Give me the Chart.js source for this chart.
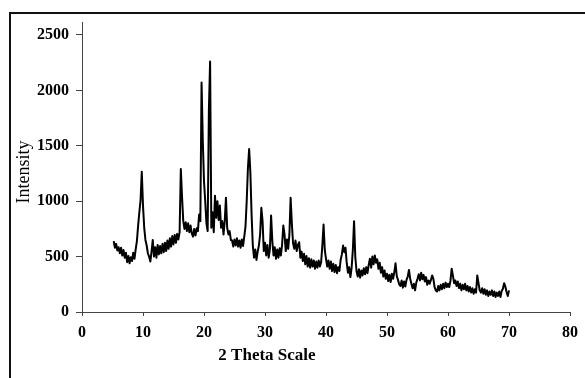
<!DOCTYPE html>
<html>
<head>
<meta charset="utf-8">
<script src="https://cdn.jsdelivr.net/npm/chart.js@4.4.1/dist/chart.umd.min.js"></script>
<style>
  html, body { margin: 0; padding: 0; background: #fff; }
  #wrap { width: 585px; height: 378px; position: relative; }
</style>
</head>
<body>
<div id="wrap"><canvas id="c" width="585" height="378"></canvas></div>
<script>
// 2-theta measurement grid (degrees)
const twoThetaStart = 5.2;
const twoThetaStep = 0.2;
// Intensity, rows of one degree (x.2 .. x+1.0)
const intensity = [
  640, 580, 615, 555, 585,      // 5
  530, 580, 510, 560, 490,      // 6
  535, 450, 505, 440, 495,      // 7
  460, 535, 480, 565, 640,      // 8
  780, 900, 1010, 1265, 960,    // 9
  760, 650, 600, 530, 500,      // 10
  455, 545, 650, 500, 585,      // 11
  490, 605, 520, 595, 530,      // 12
  615, 540, 625, 550, 645,      // 13
  570, 665, 590, 685, 610,      // 14
  695, 625, 705, 655, 720,      // 15
  1290, 1040, 820, 750, 810,    // 16
  730, 800, 720, 780, 710,      // 17
  680, 750, 690, 755, 730,      // 18
  880, 820, 2070, 1550, 1180,   // 19
  1000, 800, 730, 1820, 2260,   // 20
  760, 900, 720, 1050, 850,     // 21
  1000, 830, 960, 760, 820,     // 22
  700, 820, 1030, 760, 700,     // 23
  730, 650, 645, 590, 655,      // 24
  600, 665, 590, 645, 580,      // 25
  655, 595, 680, 770, 1000,     // 26
  1300, 1470, 1260, 880, 600,   // 27
  490, 565, 470, 545, 600,      // 28
  700, 940, 820, 550, 625,      // 29
  510, 605, 490, 565, 870,      // 30
  640, 510, 585, 480, 565,      // 31
  490, 575, 510, 605, 780,      // 32
  700, 550, 655, 570, 700,      // 33
  1030, 800, 620, 570, 645,     // 34
  550, 605, 630, 490, 545,      // 35
  460, 525, 430, 505, 410,      // 36
  485, 400, 475, 410, 465,      // 37
  390, 455, 400, 465, 410,      // 38
  450, 600, 790, 560, 480,      // 39
  410, 465, 390, 455, 370,      // 40
  435, 360, 425, 350, 405,      // 41
  370, 470, 520, 600, 540,      // 42
  580, 440, 355, 405, 315,      // 43
  400, 560, 820, 500, 370,      // 44
  320, 385, 310, 375, 330,      // 45
  395, 340, 405, 350, 425,      // 46
  480, 400, 500, 430, 510,      // 47
  445, 475, 390, 445, 355,      // 48
  405, 320, 375, 300, 345,      // 49
  280, 335, 270, 345, 300,      // 50
  360, 440, 325, 290, 250,      // 51
  235, 285, 220, 275, 230,      // 52
  290, 320, 380, 300, 255,      // 53
  215, 255, 195, 265, 300,      // 54
  340, 285, 355, 295, 335,      // 55
  275, 315, 245, 285, 255,      // 56
  290, 330, 300, 225, 195,      // 57
  185, 235, 195, 245, 205,      // 58
  255, 215, 265, 225, 255,      // 59
  225, 280, 390, 330, 260,      // 60
  285, 235, 275, 215, 255,      // 61
  195, 245, 205, 255, 195,      // 62
  235, 185, 225, 175, 215,      // 63
  165, 205, 175, 330, 260,      // 64
  195, 175, 215, 165, 205,      // 65
  155, 195, 145, 185, 155,      // 66
  195, 145, 185, 135, 175,      // 67
  145, 185, 135, 190, 210,      // 68
  260, 230, 180, 145, 195       // 69
];
const xTickValues = [0, 10, 20, 30, 40, 50, 60, 70, 80];
const yTickValues = [0, 500, 1000, 1500, 2000, 2500];
const xTitle = '2 Theta Scale';
const yTitle = 'Intensity';

const points = intensity.map((v, i) => ({ x: +(twoThetaStart + i * twoThetaStep).toFixed(1), y: v }));

const framePlugin = {
  id: 'frameAndTitles',
  afterDraw(chart) {
    const ctx = chart.ctx;
    ctx.save();
    ctx.strokeStyle = '#111';
    ctx.lineWidth = 2;
    ctx.beginPath();
    ctx.moveTo(10, 378);
    ctx.lineTo(10, 13);
    ctx.lineTo(585, 13);
    ctx.stroke();
    ctx.fillStyle = '#000';
    ctx.textAlign = 'center';
    ctx.textBaseline = 'middle';
    ctx.font = 'bold 17px "Liberation Serif"';
    ctx.fillText(xTitle, 267, 356);
    ctx.translate(24, 172);
    ctx.rotate(-Math.PI / 2);
    ctx.font = '18px "Liberation Serif"';
    ctx.fillText(yTitle, 0, 0);
    ctx.restore();
  }
};

const tickFont = { family: '"Liberation Serif"', weight: 'bold', size: 16 };

new Chart(document.getElementById('c'), {
  type: 'line',
  data: {
    datasets: [{
      data: points,
      borderColor: '#000',
      borderWidth: 2,
      borderJoinStyle: 'round',
      pointRadius: 0,
      tension: 0,
      fill: false
    }]
  },
  options: {
    responsive: false,
    animation: false,
    devicePixelRatio: 1,
    layout: { padding: { top: 22, right: 11, left: 0, bottom: 0 } },
    plugins: { legend: { display: false }, tooltip: { enabled: false } },
    scales: {
      x: {
        type: 'linear', min: 0, max: 80,
        afterBuildTicks: s => { s.ticks = xTickValues.map(v => ({ value: v })); },
        afterFit: s => { s.height = 66; },
        grid: { drawOnChartArea: false, tickLength: 4, color: '#444' },
        border: { color: '#444', width: 1 },
        ticks: { font: tickFont, color: '#000', padding: 7, maxRotation: 0, autoSkip: false,
                 callback: v => String(v) }
      },
      y: {
        type: 'linear', min: 0, max: 2617,
        afterBuildTicks: s => { s.ticks = yTickValues.map(v => ({ value: v })); },
        afterFit: s => { s.width = 82; },
        grid: { drawOnChartArea: false, tickLength: 6, color: '#444' },
        border: { color: '#444', width: 1 },
        ticks: { font: tickFont, color: '#000', padding: 7, autoSkip: false,
                 callback: v => String(v) }
      }
    }
  },
  plugins: [framePlugin]
});
</script>
</body>
</html>
